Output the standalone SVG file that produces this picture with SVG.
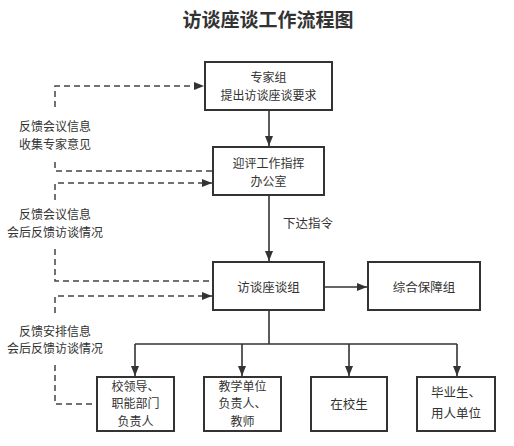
<svg xmlns="http://www.w3.org/2000/svg" width="514" height="446" viewBox="0 0 514 446">
<defs>
<marker id="ah" viewBox="0 0 10 10" refX="10" refY="5" markerWidth="10" markerHeight="10" markerUnits="userSpaceOnUse" orient="auto"><path d="M0,1 L10,5 L0,9 Z" fill="#333"/></marker>
<style>
.box{fill:#fff;stroke:#333;stroke-width:2}
.t{font-family:"Noto Sans CJK SC","Noto Sans",sans-serif;font-size:12.5px;fill:#333;text-anchor:middle}
.s{font-size:12px}
.title{font-family:"Noto Sans CJK SC","Noto Sans",sans-serif;font-size:19px;font-weight:bold;fill:#333;text-anchor:middle}
.ln{fill:none;stroke:#333;stroke-width:1.6}
.dash{fill:none;stroke:#444;stroke-width:1.5;stroke-dasharray:6 4}
</style>
</defs>
<rect width="514" height="446" fill="#fff"/>
<text class="title" x="268" y="27">访谈座谈工作流程图</text>

<g id="connectors">
<path class="ln" d="M269,110 V146" marker-end="url(#ah)"/>
<path class="ln" d="M269,195 V261" marker-end="url(#ah)"/>
<path class="ln" d="M324,287 H367" marker-end="url(#ah)"/>
<path class="ln" d="M269,310 V344 M135,344 H457"/>
<path class="ln" d="M135,344 V376" marker-end="url(#ah)"/>
<path class="ln" d="M242,344 V376" marker-end="url(#ah)"/>
<path class="ln" d="M349,344 V376" marker-end="url(#ah)"/>
<path class="ln" d="M457,344 V376" marker-end="url(#ah)"/>
<path class="dash" d="M55,107 V86 H204" marker-end="url(#ah)"/>
<path class="dash" d="M55,162 V171 H213"/>
<path class="dash" d="M55,200 V183 H212" marker-end="url(#ah)"/>
<path class="dash" d="M55,249 V281 H213"/>
<path class="dash" d="M55,313 V296 H212" marker-end="url(#ah)"/>
<path class="dash" d="M55,365 V404 H97"/>
<text class="t s" x="55" y="131">反馈会议信息<tspan x="55" dy="17.5">收集专家意见</tspan></text>
<text class="t s" x="55" y="219">反馈会议信息<tspan x="55" dy="17.5">会后反馈访谈情况</tspan></text>
<text class="t s" x="55" y="335.5">反馈安排信息<tspan x="55" dy="17.5">会后反馈访谈情况</tspan></text>
<text class="t" x="308" y="227.5">下达指令</text>
</g>

<g id="n1"><rect class="box" x="205" y="62" width="127" height="48"/>
<text class="t s" x="268.5" y="82">专家组<tspan x="268.5" dy="17.5">提出访谈座谈要求</tspan></text></g>
<g id="n2"><rect class="box" x="213" y="147" width="111" height="48"/>
<text class="t s" x="268.5" y="168">迎评工作指挥<tspan x="268.5" dy="17.5">办公室</tspan></text></g>
<g id="n3"><rect class="box" x="213" y="262" width="111" height="48"/>
<text class="t" x="268.5" y="291.5">访谈座谈组</text></g>
<g id="n4"><rect class="box" x="368" y="262" width="112" height="48"/>
<text class="t" x="424" y="291.5">综合保障组</text></g>
<g id="n5"><rect class="box" x="97" y="377" width="77" height="54"/>
<text class="t s" x="135.5" y="390.5">校领导、<tspan x="135.5" dy="17.5">职能部门</tspan><tspan x="135.5" dy="17.5">负责人</tspan></text></g>
<g id="n6"><rect class="box" x="204" y="377" width="77" height="54"/>
<text class="t s" x="242.5" y="390.5">教学单位<tspan x="242.5" dy="17.5">负责人、</tspan><tspan x="242.5" dy="17.5">教师</tspan></text></g>
<g id="n7"><rect class="box" x="311" y="377" width="76" height="54"/>
<text class="t" x="349" y="409">在校生</text></g>
<g id="n8"><rect class="box" x="417" y="377" width="78" height="54"/>
<text class="t" x="456" y="396.5">毕业生、<tspan x="456" dy="21">用人单位</tspan></text></g>
</svg>
